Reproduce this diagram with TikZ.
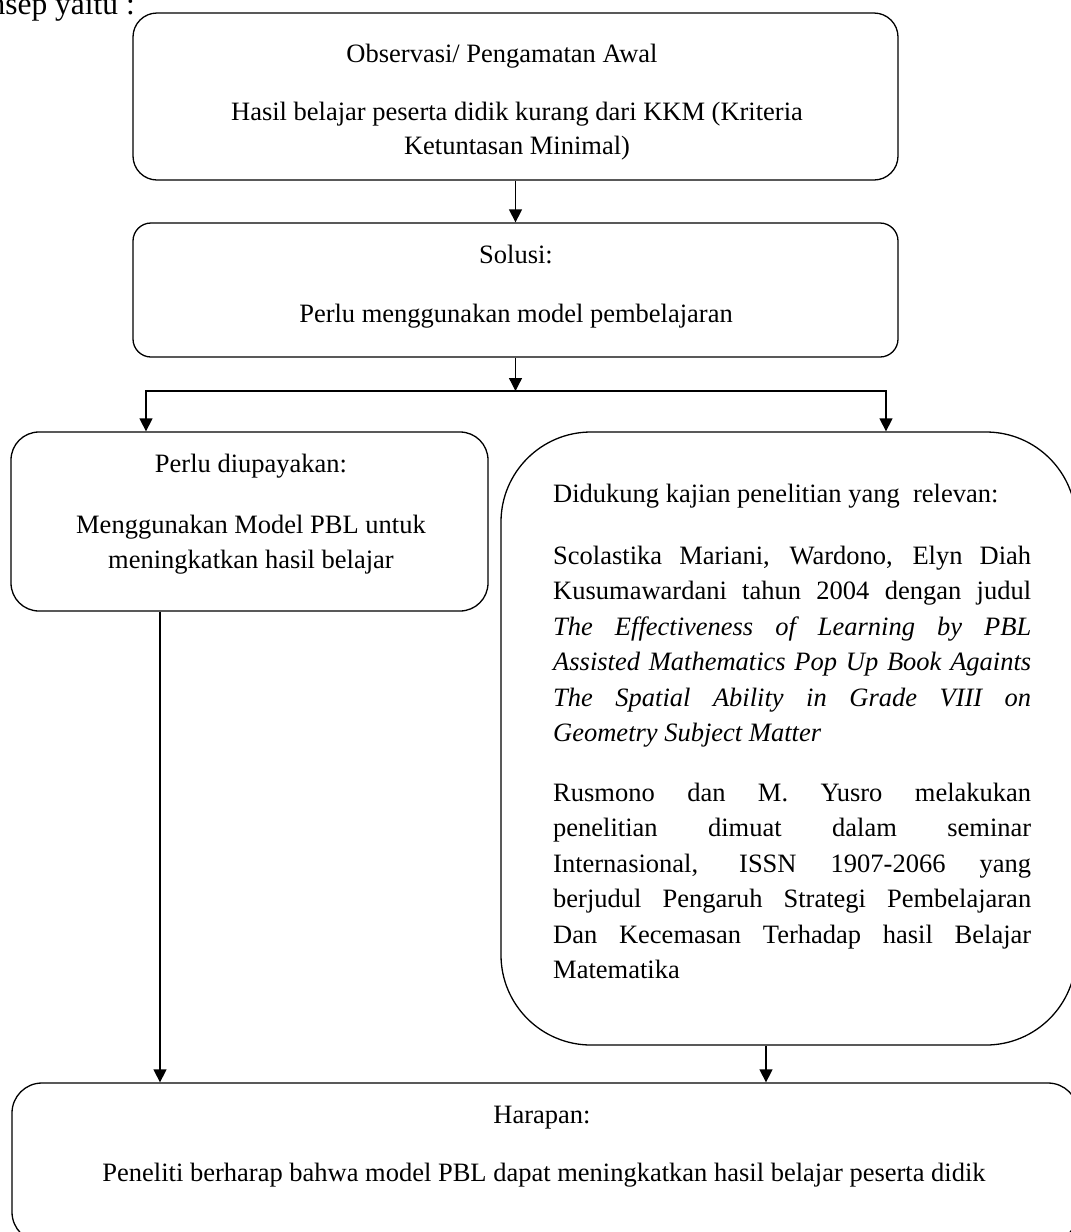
\documentclass[tikz,border=0pt]{standalone}
\usepackage{fontspec}
\setmainfont{Liberation Serif}
\usetikzlibrary{arrows.meta}
\begin{document}
\begin{tikzpicture}[x=1pt,y=-1pt,
  box/.style={draw, line width=1.3pt, inner sep=0pt},
  txt/.style={inner sep=0pt, anchor=base, font=\fontsize{26.5pt}{35.5pt}\selectfont},
  rtxt/.style={txt, anchor=base west},
  arr/.style={line width=1.3pt, -{Triangle[length=13pt,width=13pt]}},
  ln/.style={line width=1.3pt, line cap=rect}]
\useasboundingbox (0,0) rectangle (1071,1232);
\clip (0,0) rectangle (1071,1232);

% boxes
\node[box, rounded corners=24pt, minimum width=765pt, minimum height=167pt] (obs) at (515.5,96.5) {};
\node[box, rounded corners=18pt, minimum width=765pt, minimum height=134pt] (sol) at (515.5,290) {};
\node[box, rounded corners=28pt, minimum width=477pt, minimum height=179pt] (left) at (249.5,521.5) {};
\node[box, rounded corners=90pt, minimum width=575pt, minimum height=613pt] (right) at (788.5,738.5) {};
\node[box, rounded corners=30pt, minimum width=1066pt, minimum height=159pt] (hope) at (545,1162.5) {};

% connectors
\coordinate (jm) at (515.5,391);
\coordinate (jl) at (146,391);
\coordinate (jr) at (886,391);
\coordinate (ll) at (160,0);
\coordinate (rl) at (766,0);
\draw[arr] (obs.south) -- (sol.north);
\draw[arr] (sol.south) -- (jm);
\draw[ln] (jl) -- (jr);
\draw[arr] (jl) -- (jl |- left.north);
\draw[arr] (jr) -- (jr |- right.north);
\draw[arr] (ll |- left.south) -- (ll |- hope.north);
\draw[arr] (rl |- right.south) -- (rl |- hope.north);

% texts
\node[txt, anchor=base east, font=\fontsize{31.5pt}{36pt}\selectfont] (t0) at (135,14) {nsep yaitu :};
\node[txt] (t1) at (502,62) {Observasi/ Pengamatan Awal};
\node[txt] (t2) at (517,120) {Hasil belajar peserta didik kurang dari KKM (Kriteria};
\node[txt] (t3) at (517,154) {Ketuntasan Minimal)};
\node[txt] (t4) at (516,263) {Solusi:};
\node[txt] (t5) at (516,322) {Perlu menggunakan model pembelajaran};
\node[txt] (t6) at (251,472) {Perlu diupayakan:};
\node[txt] (t7) at (251,533) {Menggunakan Model PBL untuk};
\node[txt] (t8) at (251,568) {meningkatkan hasil belajar};
\node[txt] (t9) at (542,1123) {Harapan:};
\node[txt] (t10) at (544,1181) {Peneliti berharap bahwa model PBL dapat meningkatkan hasil belajar peserta didik};

\node[rtxt] (r1) at (553,502) {Didukung kajian penelitian yang\ \ relevan:};
\node[rtxt] (r2) at (553,564) {\makebox[478pt][s]{Scolastika Mariani, Wardono, Elyn Diah}};
\node[rtxt] (r3) at (553,599.5) {\makebox[478pt][s]{Kusumawardani tahun 2004 dengan judul}};
\node[rtxt] (r4) at (553,635) {\makebox[478pt][s]{\itshape The Effectiveness of Learning by PBL}};
\node[rtxt] (r5) at (553,670.5) {\makebox[478pt][s]{\itshape Assisted Mathematics Pop Up Book Againts}};
\node[rtxt] (r6) at (553,706) {\makebox[478pt][s]{\itshape The Spatial Ability in Grade VIII on}};
\node[rtxt] (r7) at (553,741.5) {\itshape Geometry Subject Matter};
\node[rtxt] (r8) at (553,801) {\makebox[478pt][s]{Rusmono dan M. Yusro melakukan}};
\node[rtxt] (r9) at (553,836.5) {\makebox[478pt][s]{penelitian dimuat dalam seminar}};
\node[rtxt] (r10) at (553,872) {\makebox[478pt][s]{Internasional, ISSN 1907-2066 yang}};
\node[rtxt] (r11) at (553,907.5) {\makebox[478pt][s]{berjudul Pengaruh Strategi Pembelajaran}};
\node[rtxt] (r12) at (553,943) {\makebox[478pt][s]{Dan Kecemasan Terhadap hasil Belajar}};
\node[rtxt] (r13) at (553,978.5) {Matematika};
\end{tikzpicture}
\end{document}
